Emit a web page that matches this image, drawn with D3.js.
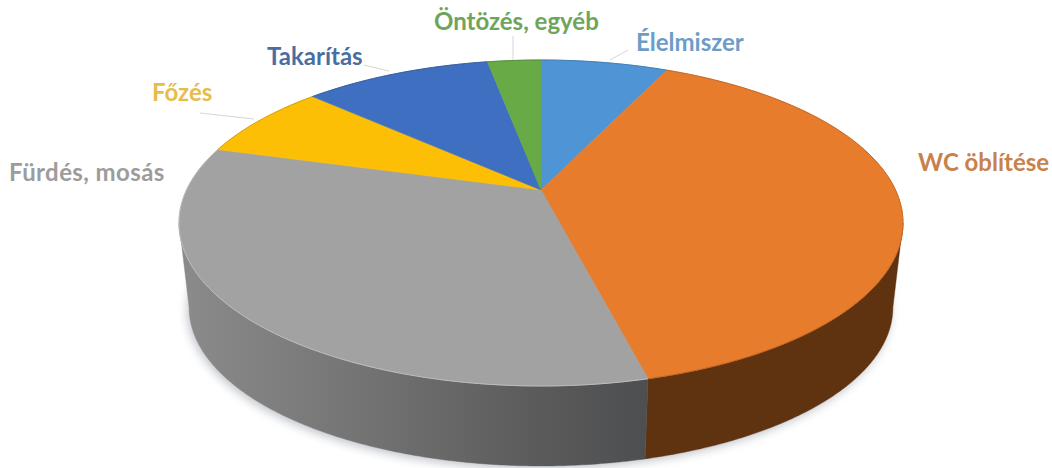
<!DOCTYPE html>
<html lang="hu">
<head>
<meta charset="utf-8">
<title>Háztartási vízfelhasználás</title>
<script src="https://cdn.jsdelivr.net/npm/d3@7/dist/d3.min.js"></script>
<style>
  html, body { margin: 0; padding: 0; background: #fff; }
  svg { display: block; }
  text { font-family: Lato, "Open Sans", sans-serif; font-weight: 700; font-size: 24px; }
</style>
</head>
<body>
<svg id="chart" width="1052" height="468"></svg>
<script>
// Share of household water use, in percent, clockwise from twelve o'clock.
const categories = ["Élelmiszer", "WC öblítése", "Fürdés, mosás", "Főzés", "Takarítás", "Öntözés, egyéb"];
const shares = [6.9, 39.2, 33.3, 7.5, 10.2, 2.9];
const sliceColours = ["#4f95d5", "#e87c2d", "#a2a2a2", "#fdbf05", "#3f6fc1", "#67aa46"];
const labelColours = ["#6c9dc8", "#c9814c", "#9c9c9c", "#e8bc4c", "#4a6ea3", "#6fa45b"];

const svg = d3.select("#chart");
const tau = 2 * Math.PI;

const colour = d3.scaleOrdinal(categories, sliceColours);
const labelColour = d3.scaleOrdinal(categories, labelColours);

const slices = d3.pie().sort(null).value((d, i) => shares[i])(categories);

// Perspective of the disc: the far edge is foreshortened relative to the near edge.
const tilt = 0.2025;
const topFace = { cx: 541, cy: 190, rx: 354.5, ry: 156.3 };
const baseFace = { cx: 541, cy: 275.5, rx: 344.6, ry: 151.9 };

function project(face, angle, r = 1) {
  const u = r * Math.sin(angle), v = r * Math.cos(angle);
  const w = 1 + tilt * v;
  return [face.cx + face.rx * u / w, face.cy - face.ry * v / w];
}

const line = d3.line();
const rimAngles = (a, b) => {
  const steps = Math.max(2, Math.ceil(Math.abs(b - a) / (tau / 720)));
  return d3.range(steps + 1).map(i => a + (b - a) * i / steps);
};
const rim = (face, a, b) => rimAngles(a, b).map(t => project(face, t));

// The wall is visible between the two silhouette angles of the projected circle.
const wallStart = Math.acos(-tilt);
const wallEnd = tau - wallStart;

const defs = svg.append("defs");
defs.append("filter").attr("id", "soft")
  .attr("x", "-10%").attr("y", "-10%").attr("width", "120%").attr("height", "130%")
  .append("feGaussianBlur").attr("stdDeviation", 5);

const wallGradient = defs.append("linearGradient").attr("id", "wall-grey")
  .attr("gradientUnits", "userSpaceOnUse")
  .attr("x1", 190).attr("x2", 650).attr("y1", 0).attr("y2", 0);
wallGradient.append("stop").attr("offset", 0).attr("stop-color", "#8a8a8a");
wallGradient.append("stop").attr("offset", 0.35).attr("stop-color", "#757575");
wallGradient.append("stop").attr("offset", 0.75).attr("stop-color", "#5b5b5b");
wallGradient.append("stop").attr("offset", 1).attr("stop-color", "#4d4e50");

const wallFill = d => d.data === "Fürdés, mosás" ? "url(#wall-grey)"
  : d.data === "WC öblítése" ? "#5f3210"
  : d3.color(colour(d.data)).darker(1.4);

// Soft contact shadow beneath the cylinder.
svg.append("path")
  .attr("d", line(rim(baseFace, 0, tau)) + "Z")
  .attr("transform", "translate(-2,3)")
  .attr("fill", "#8f96a0")
  .attr("opacity", 0.55)
  .attr("filter", "url(#soft)");

// Side walls, clipped to the visible angular range of each slice.
const walls = slices
  .map(d => ({ d, a: Math.max(d.startAngle, wallStart), b: Math.min(d.endAngle, wallEnd) }))
  .filter(s => s.b > s.a);

svg.append("g").selectAll("path").data(walls).join("path")
  .attr("d", s => line(rim(topFace, s.a, s.b).concat(rim(baseFace, s.b, s.a))) + "Z")
  .attr("fill", s => wallFill(s.d))
  .attr("stroke", s => wallFill(s.d))
  .attr("stroke-width", 0.4);

// Top faces of the slices.
svg.append("g").selectAll("path").data(slices).join("path")
  .attr("d", d => line([project(topFace, 0, 0)].concat(rim(topFace, d.startAngle, d.endAngle))) + "Z")
  .attr("fill", d => colour(d.data))
  .attr("stroke", d => colour(d.data))
  .attr("stroke-width", 0.6)
  .attr("stroke-linejoin", "round");

// Thin edge where each top face meets the rim.
svg.append("g").attr("fill", "none").selectAll("path").data(slices).join("path")
  .attr("d", d => line(rim(topFace, d.startAngle, d.endAngle)))
  .attr("stroke", d => d.data === "Fürdés, mosás" ? "#bdbdbd" : d3.color(colour(d.data)).darker(0.5))
  .attr("stroke-width", 1);

// Leader lines and category labels.
const labelPlacement = new Map([
  ["Élelmiszer",     { x: 636, y: 51,  leader: [[628, 50], [610, 60]] }],
  ["WC öblítése",    { x: 918, y: 171 }],
  ["Fürdés, mosás",  { x: 9,   y: 181, spacing: 0.4 }],
  ["Főzés",          { x: 152, y: 101, leader: [[200, 113], [254, 119]] }],
  ["Takarítás",      { x: 267, y: 65,  leader: [[364, 65], [389, 71]] }],
  ["Öntözés, egyéb", { x: 434, y: 30,  leader: [[513, 36], [513, 60]] }]
]);

svg.append("g").attr("fill", "none").attr("stroke", "#d4d6d8").attr("stroke-width", 1)
  .selectAll("path")
  .data(categories.filter(c => labelPlacement.get(c).leader))
  .join("path")
  .attr("d", c => line(labelPlacement.get(c).leader));

svg.append("g").selectAll("text").data(categories).join("text")
  .attr("x", c => labelPlacement.get(c).x)
  .attr("y", c => labelPlacement.get(c).y)
  .attr("letter-spacing", c => labelPlacement.get(c).spacing || 0)
  .attr("fill", c => labelColour(c))
  .text(c => c);
</script>
</body>
</html>
